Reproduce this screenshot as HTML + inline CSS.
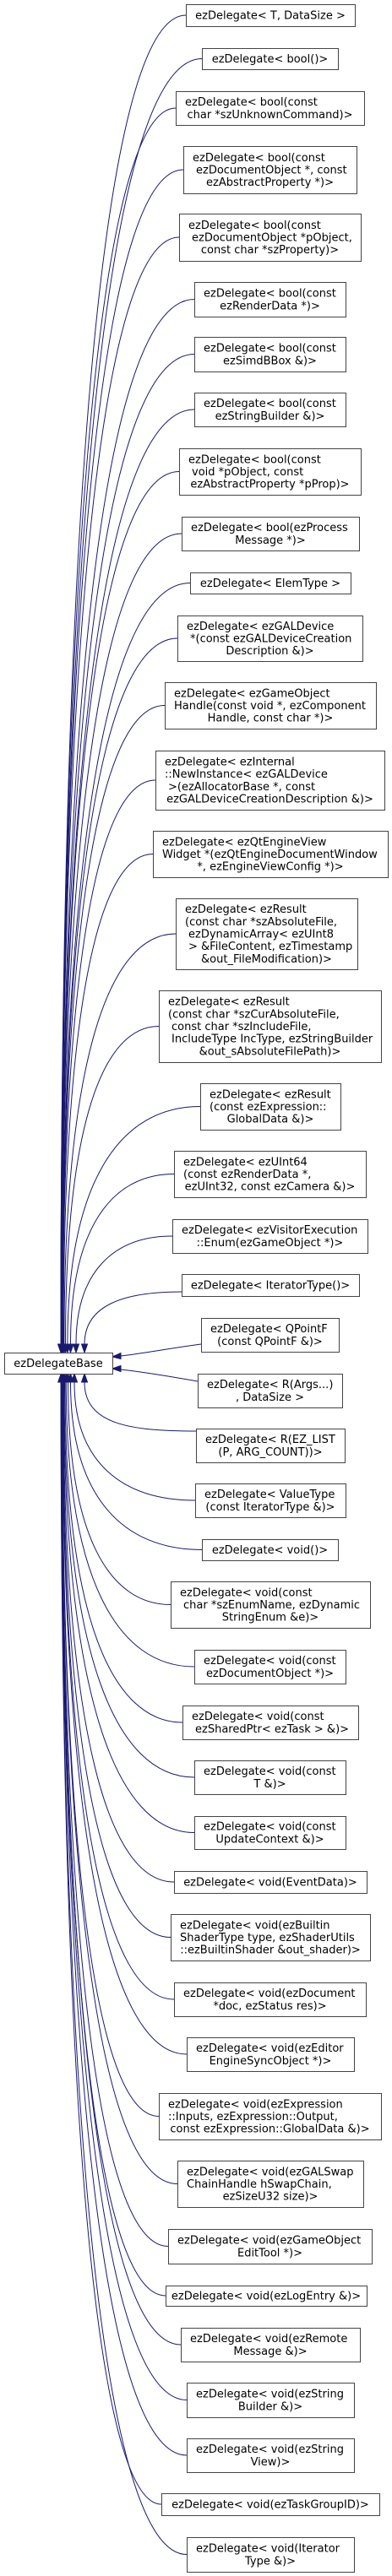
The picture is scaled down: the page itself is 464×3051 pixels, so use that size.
<!DOCTYPE html>
<html><head><meta charset="utf-8">
<style>
html,body{margin:0;padding:0;background:#fff;}
svg{display:block}
text{font-family:"DejaVu Sans","Liberation Sans",sans-serif;font-size:13px;fill:#000}
.c{text-anchor:middle}
rect{fill:#fff;stroke:#444;stroke-width:1}
path{fill:none;stroke:#191970;stroke-width:1}
polygon{fill:#191970;stroke:#191970}
</style></head>
<body>
<svg width="464" height="3051" viewBox="0 0 464 3051" xmlns="http://www.w3.org/2000/svg">
<!-- edges above -->
<path d="M220,18 C131.2,18 72,493.2 72,1592"/>
<path d="M239,69.5 C138.8,69.5 72,529.3 72,1592"/>
<path d="M208,128 C126.4,128 72,570.2 72,1592"/>
<path d="M217,201 C130,201 72.1,621.3 72.1,1592"/>
<path d="M212,281 C128.2,281 72.3,677.3 72.3,1592"/>
<path d="M230,354.5 C135.4,354.5 72.4,728.8 72.4,1592"/>
<path d="M230,419.5 C135.5,419.5 72.5,774.3 72.5,1592"/>
<path d="M230,485 C135.6,485 72.7,820.1 72.7,1592"/>
<path d="M212,558.5 C128.5,558.5 72.8,871.5 72.8,1592"/>
<path d="M215,632 C129.8,632 73,923 73,1592"/>
<path d="M225,690.5 C134,690.5 73.3,964 73.3,1592"/>
<path d="M210,756 C128.1,756 73.5,1009.8 73.5,1592"/>
<path d="M195,835.5 C122.3,835.5 73.9,1065.4 73.9,1592"/>
<path d="M184,924 C118.2,924 74.3,1127.4 74.3,1592"/>
<path d="M181,1011.5 C117.4,1011.5 75,1188.7 75,1592"/>
<path d="M208,1106 C128.7,1106 75.9,1254.8 75.9,1592"/>
<path d="M188,1215.5 C121.7,1215.5 77.5,1331.5 77.5,1592"/>
<path d="M237,1310.5 C142.7,1310.5 79.9,1398 79.9,1592"/>
<path d="M206,1390.5 C132.5,1390.5 83.5,1453.9 83.5,1592"/>
<path d="M204,1464 C135.6,1464 90,1505.4 90,1592"/>
<path d="M215,1530 C146,1530 100,1546 100,1592"/>
<polygon points="72,1602 68.5,1592 75.5,1592"/>
<polygon points="73,1602 69.5,1592 76.5,1592"/>
<polygon points="74.3,1602 70.8,1592 77.8,1592"/>
<polygon points="75.9,1602 72.4,1592 79.4,1592"/>
<polygon points="77.5,1602 74,1592 81,1592"/>
<polygon points="79.9,1602 76.4,1592 83.4,1592"/>
<polygon points="83.5,1602 80,1592 87,1592"/>
<polygon points="90,1602 86.5,1592 93.5,1592"/>
<polygon points="100,1602 96.5,1592 103.5,1592"/>
<!-- right side -->
<path d="M238,1592 C200,1597 170,1603 143,1606"/>
<polygon points="133,1607 143,1602.5 143,1609.5"/>
<path d="M234,1636 C200,1630 170,1625 143,1622"/>
<polygon points="133,1621 143,1617.5 143,1624.5"/>
<!-- edges below -->
<path d="M232,1695 C152.8,1695 100,1686.5 100,1637"/>
<path d="M231,1777 C145.2,1777 88,1732 88,1637"/>
<path d="M239,1835.5 C145.7,1835.5 83.5,1772.9 83.5,1637"/>
<path d="M202,1900.5 C129.1,1900.5 80.5,1818.5 80.5,1637"/>
<path d="M230,1974 C139,1974 78.3,1870 78.3,1637"/>
<path d="M216,2040 C132.6,2040 77,1916.1 77,1637"/>
<path d="M230,2105 C137.6,2105 76,1961.6 76,1637"/>
<path d="M230,2170.5 C137.2,2170.5 75.4,2007.5 75.4,1637"/>
<path d="M206,2229 C127.3,2229 74.9,2048.4 74.9,1637"/>
<path d="M202,2294.5 C125.4,2294.5 74.4,2094.5 74.4,1637"/>
<path d="M206,2368 C126.8,2368 74,2145.7 74,1637"/>
<path d="M221,2433 C132.6,2433 73.7,2191.2 73.7,1637"/>
<path d="M188,2506.5 C119.2,2506.5 73.4,2242.6 73.4,1637"/>
<path d="M210,2586.5 C127.9,2586.5 73.1,2298.6 73.1,1637"/>
<path d="M199,2660.5 C123.3,2660.5 72.9,2350.5 72.9,1637"/>
<path d="M196,2719 C122,2719 72.7,2391.4 72.7,1637"/>
<path d="M214,2777 C129.2,2777 72.6,2432 72.6,1637"/>
<path d="M221,2842.5 C131.8,2842.5 72.4,2477.8 72.4,1637"/>
<path d="M221,2908 C131.8,2908 72.3,2523.7 72.3,1637"/>
<path d="M191,2966 C119.7,2966 72.2,2564.3 72.2,1637"/>
<path d="M221,3025.5 C131.7,3025.5 72.1,2605.9 72.1,1637"/>
<polygon points="100,1627 96.5,1637 103.5,1637"/>
<polygon points="88,1627 84.5,1637 91.5,1637"/>
<polygon points="83.5,1627 80,1637 87,1637"/>
<polygon points="80.5,1627 77,1637 84,1637"/>
<polygon points="78.3,1627 74.8,1637 81.8,1637"/>
<polygon points="76,1627 72.5,1637 79.5,1637"/>
<polygon points="74.4,1627 70.9,1637 77.9,1637"/>
<polygon points="73,1627 69.5,1637 76.5,1637"/>
<polygon points="72.2,1627 68.7,1637 75.7,1637"/>

<!-- base -->
<rect x="5.5" y="1602.5" width="128" height="25"/>
<text class="c" x="69" y="1619">ezDelegateBase</text>

<!-- nodes -->
<rect x="220.5" y="5.5" width="200" height="26"/>
<text class="c" x="320" y="22.5">ezDelegate&lt; T, DataSize &gt;</text>

<rect x="239.5" y="57.5" width="161" height="25"/>
<text class="c" x="319.5" y="74">ezDelegate&lt; bool()&gt;</text>

<rect x="208.5" y="108.5" width="223" height="40"/>
<text x="219" y="125.2">ezDelegate&lt; bool(const</text>
<text class="c" x="319.5" y="139.9">char *szUnknownCommand)&gt;</text>

<rect x="217.5" y="173.5" width="205" height="56"/>
<text x="228" y="190.8">ezDelegate&lt; bool(const</text>
<text x="232" y="205.5">ezDocumentObject *, const</text>
<text class="c" x="319.5" y="220.2">ezAbstractProperty *)&gt;</text>

<rect x="212.5" y="253.5" width="215" height="56"/>
<text x="223" y="270.8">ezDelegate&lt; bool(const</text>
<text x="227" y="285.5">ezDocumentObject *pObject,</text>
<text class="c" x="319.5" y="300.2">const char *szProperty)&gt;</text>

<rect x="230.5" y="334.5" width="179" height="41"/>
<text x="241" y="351.7">ezDelegate&lt; bool(const</text>
<text class="c" x="319.5" y="366.4">ezRenderData *)&gt;</text>

<rect x="230.5" y="399.5" width="179" height="41"/>
<text x="241" y="416.7">ezDelegate&lt; bool(const</text>
<text class="c" x="319.5" y="431.4">ezSimdBBox &amp;)&gt;</text>

<rect x="230.5" y="465.5" width="179" height="40"/>
<text x="241" y="482.2">ezDelegate&lt; bool(const</text>
<text class="c" x="319.5" y="496.9">ezStringBuilder &amp;)&gt;</text>

<rect x="212.5" y="531.5" width="215" height="55"/>
<text x="223" y="548.3">ezDelegate&lt; bool(const</text>
<text x="227" y="563">void *pObject, const</text>
<text class="c" x="319.5" y="577.7">ezAbstractProperty *pProp)&gt;</text>

<rect x="215.5" y="612.5" width="210" height="40"/>
<text x="226" y="629.2">ezDelegate&lt; bool(ezProcess</text>
<text class="c" x="320" y="643.9">Message *)&gt;</text>

<rect x="225.5" y="678.5" width="190" height="25"/>
<text class="c" x="320" y="695">ezDelegate&lt; ElemType &gt;</text>

<rect x="210.5" y="729.5" width="219" height="54"/>
<text x="221" y="745.8">ezDelegate&lt; ezGALDevice</text>
<text x="225" y="760.5">*(const ezGALDeviceCreation</text>
<text class="c" x="319.5" y="775.2">Description &amp;)&gt;</text>

<rect x="195.5" y="808.5" width="250" height="55"/>
<text x="206" y="825.3">ezDelegate&lt; ezGameObject</text>
<text x="206" y="840">Handle(const void *, ezComponent</text>
<text class="c" x="320" y="854.7">Handle, const char *)&gt;</text>

<rect x="184.5" y="889.5" width="271" height="70"/>
<text x="195" y="906.5">ezDelegate&lt; ezInternal</text>
<text x="195" y="921.2">::NewInstance&lt; ezGALDevice</text>
<text x="199" y="935.9">&gt;(ezAllocatorBase *, const</text>
<text class="c" x="319.5" y="950.6">ezGALDeviceCreationDescription &amp;)&gt;</text>

<rect x="181.5" y="984.5" width="278" height="55"/>
<text x="192" y="1001.3">ezDelegate&lt; ezQtEngineView</text>
<text x="192" y="1016">Widget *(ezQtEngineDocumentWindow</text>
<text class="c" x="320" y="1030.7">*, ezEngineViewConfig *)&gt;</text>

<rect x="208.5" y="1064.5" width="215" height="84"/>
<text x="219" y="1081.1">ezDelegate&lt; ezResult</text>
<text x="219" y="1095.8">(const char *szAbsoluteFile,</text>
<text x="223" y="1110.5">ezDynamicArray&lt; ezUInt8</text>
<text x="223" y="1125.2">&gt; &amp;FileContent, ezTimestamp</text>
<text class="c" x="315.5" y="1139.9">&amp;out_FileModification)&gt;</text>

<rect x="188.5" y="1173.5" width="263" height="85"/>
<text x="199" y="1190.6">ezDelegate&lt; ezResult</text>
<text x="199" y="1205.3">(const char *szCurAbsoluteFile,</text>
<text x="203" y="1220">const char *szIncludeFile,</text>
<text x="203" y="1234.7">IncludeType IncType, ezStringBuilder</text>
<text class="c" x="319.5" y="1249.4">&amp;out_sAbsoluteFilePath)&gt;</text>

<rect x="237.5" y="1283.5" width="166" height="55"/>
<text x="248" y="1300.3">ezDelegate&lt; ezResult</text>
<text x="248" y="1315">(const ezExpression::</text>
<text class="c" x="320" y="1329.7">GlobalData &amp;)&gt;</text>

<rect x="206.5" y="1363.5" width="227" height="55"/>
<text x="217" y="1380.3">ezDelegate&lt; ezUInt64</text>
<text x="217" y="1395">(const ezRenderData *,</text>
<text class="c" x="319.5" y="1409.7">ezUInt32, const ezCamera &amp;)&gt;</text>

<rect x="204.5" y="1444.5" width="231" height="40"/>
<text x="215" y="1461.2">ezDelegate&lt; ezVisitorExecution</text>
<text class="c" x="319.5" y="1475.9">::Enum(ezGameObject *)&gt;</text>

<rect x="215.5" y="1509.5" width="210" height="26"/>
<text class="c" x="320" y="1526.5">ezDelegate&lt; IteratorType()&gt;</text>

<rect x="238.5" y="1561.5" width="163" height="40"/>
<text x="249" y="1578.2">ezDelegate&lt; QPointF</text>
<text class="c" x="319.5" y="1592.9">(const QPointF &amp;)&gt;</text>

<rect x="234.5" y="1627.5" width="171" height="40"/>
<text x="245" y="1644.2">ezDelegate&lt; R(Args...)</text>
<text class="c" x="319.5" y="1658.9">, DataSize &gt;</text>

<rect x="232.5" y="1692.5" width="176" height="40"/>
<text x="243" y="1709.2">ezDelegate&lt; R(EZ_LIST</text>
<text class="c" x="320" y="1723.9">(P, ARG_COUNT))&gt;</text>

<rect x="231.5" y="1757.5" width="178" height="40"/>
<text x="242" y="1774.2">ezDelegate&lt; ValueType</text>
<text class="c" x="320" y="1788.9">(const IteratorType &amp;)&gt;</text>

<rect x="239.5" y="1823.5" width="161" height="25"/>
<text class="c" x="319.5" y="1840">ezDelegate&lt; void()&gt;</text>

<rect x="202.5" y="1873.5" width="236" height="55"/>
<text x="213" y="1890.3">ezDelegate&lt; void(const</text>
<text x="217" y="1905">char *szEnumName, ezDynamic</text>
<text class="c" x="320" y="1919.7">StringEnum &amp;e)&gt;</text>

<rect x="230.5" y="1954.5" width="179" height="40"/>
<text x="241" y="1971.2">ezDelegate&lt; void(const</text>
<text class="c" x="319.5" y="1985.9">ezDocumentObject *)&gt;</text>

<rect x="216.5" y="2020.5" width="208" height="40"/>
<text x="227" y="2037.2">ezDelegate&lt; void(const</text>
<text x="231" y="2051.9">ezSharedPtr&lt; ezTask &gt; &amp;)&gt;</text>

<rect x="230.5" y="2085.5" width="179" height="40"/>
<text x="241" y="2102.2">ezDelegate&lt; void(const</text>
<text class="c" x="319.5" y="2116.9">T &amp;)&gt;</text>

<rect x="230.5" y="2151.5" width="179" height="39"/>
<text x="241" y="2167.7">ezDelegate&lt; void(const</text>
<text class="c" x="319.5" y="2182.4">UpdateContext &amp;)&gt;</text>

<rect x="206.5" y="2216.5" width="228" height="26"/>
<text class="c" x="320" y="2233.5">ezDelegate&lt; void(EventData)&gt;</text>

<rect x="202.5" y="2267.5" width="236" height="55"/>
<text x="213" y="2284.3">ezDelegate&lt; void(ezBuiltin</text>
<text x="213" y="2299">ShaderType type, ezShaderUtils</text>
<text class="c" x="320" y="2313.7">::ezBuiltinShader &amp;out_shader)&gt;</text>

<rect x="206.5" y="2348.5" width="227" height="40"/>
<text x="217" y="2365.2">ezDelegate&lt; void(ezDocument</text>
<text class="c" x="319.5" y="2379.9">*doc, ezStatus res)&gt;</text>

<rect x="221.5" y="2413.5" width="198" height="40"/>
<text x="232" y="2430.2">ezDelegate&lt; void(ezEditor</text>
<text class="c" x="320" y="2444.9">EngineSyncObject *)&gt;</text>

<rect x="188.5" y="2479.5" width="263" height="55"/>
<text x="199" y="2496.3">ezDelegate&lt; void(ezExpression</text>
<text x="199" y="2511">::Inputs, ezExpression::Output,</text>
<text class="c" x="319.5" y="2525.7">const ezExpression::GlobalData &amp;)&gt;</text>

<rect x="210.5" y="2559.5" width="220" height="55"/>
<text x="221" y="2576.3">ezDelegate&lt; void(ezGALSwap</text>
<text x="221" y="2591">ChainHandle hSwapChain,</text>
<text class="c" x="320" y="2605.7">ezSizeU32 size)&gt;</text>

<rect x="199.5" y="2640.5" width="241" height="41"/>
<text x="210" y="2657.7">ezDelegate&lt; void(ezGameObject</text>
<text class="c" x="319.5" y="2672.4">EditTool *)&gt;</text>

<rect x="196.5" y="2707.5" width="238" height="24"/>
<text class="c" x="315" y="2723.5">ezDelegate&lt; void(ezLogEntry &amp;)&gt;</text>

<rect x="214.5" y="2757.5" width="212" height="40"/>
<text x="225" y="2774.2">ezDelegate&lt; void(ezRemote</text>
<text class="c" x="320" y="2788.9">Message &amp;)&gt;</text>

<rect x="221.5" y="2822.5" width="198" height="41"/>
<text x="232" y="2839.7">ezDelegate&lt; void(ezString</text>
<text class="c" x="320" y="2854.4">Builder &amp;)&gt;</text>

<rect x="221.5" y="2888.5" width="198" height="40"/>
<text x="232" y="2905.2">ezDelegate&lt; void(ezString</text>
<text class="c" x="320" y="2919.9">View)&gt;</text>

<rect x="191.5" y="2953.5" width="258" height="26"/>
<text class="c" x="320" y="2970.5">ezDelegate&lt; void(ezTaskGroupID)&gt;</text>

<rect x="221.5" y="3005.5" width="198" height="41"/>
<text x="232" y="3022.7">ezDelegate&lt; void(Iterator</text>
<text class="c" x="320" y="3037.4">Type &amp;)&gt;</text>
</svg>
</body></html>
